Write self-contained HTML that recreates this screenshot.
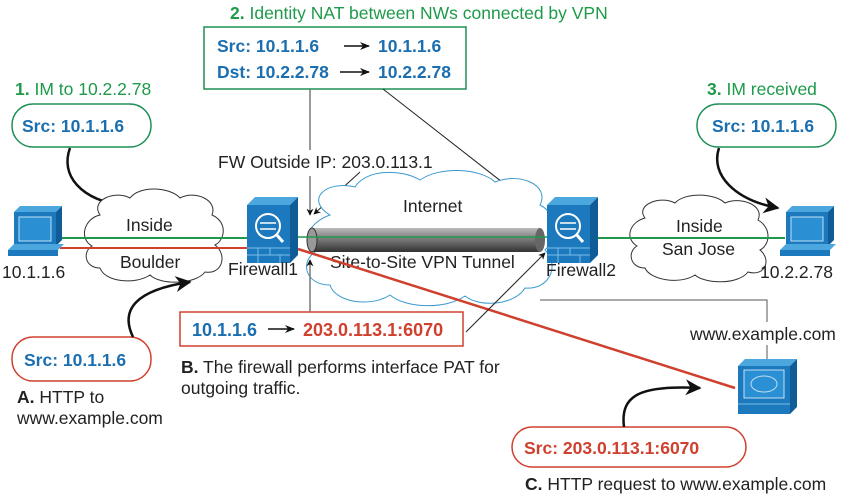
<!DOCTYPE html>
<html><head><meta charset="utf-8"><style>
html,body{margin:0;padding:0;background:#fff;width:849px;height:498px;overflow:hidden}
svg{display:block;font-family:"Liberation Sans",Arial,sans-serif}
.b{font-weight:bold}
</style></head><body>
<svg width="849" height="498" viewBox="0 0 849 498" xmlns="http://www.w3.org/2000/svg">
<defs>
<marker id="ah" viewBox="0 0 10 10" refX="9" refY="5" markerWidth="7" markerHeight="7" orient="auto-start-reverse" markerUnits="userSpaceOnUse"><path d="M0,0 L10,5 L0,10 L3,5z" fill="#111"/></marker>
<marker id="ahs" viewBox="0 0 10 10" refX="9" refY="5" markerWidth="11" markerHeight="10" orient="auto" markerUnits="userSpaceOnUse"><path d="M0,1 L10,5 L0,9 L3,5z" fill="#111"/></marker>
<marker id="big" viewBox="0 0 10 10" refX="9" refY="5" markerWidth="22" markerHeight="16" orient="auto" markerUnits="userSpaceOnUse"><path d="M0,0 L10,5 L0,10 L3,5z" fill="#111"/></marker>
<linearGradient id="tub" x1="0" y1="0" x2="0" y2="1"><stop offset="0" stop-color="#bbb"/><stop offset="0.35" stop-color="#888"/><stop offset="1" stop-color="#333"/></linearGradient>
</defs>

<text x="230" y="19" font-size="17.5" fill="#1e9a4a"><tspan class="b">2.</tspan> Identity NAT between NWs connected by VPN</text>
<rect x="204" y="27" width="262" height="62" fill="#fff" stroke="#1e8f55" stroke-width="1.5"/>
<text x="217" y="52" font-size="17.5" class="b" fill="#1b6fb0">Src: 10.1.1.6</text>
<text x="378" y="52" font-size="17.5" class="b" fill="#1b6fb0">10.1.1.6</text>
<text x="217" y="78" font-size="17.5" class="b" fill="#1b6fb0">Dst: 10.2.2.78</text>
<text x="378" y="78" font-size="17.5" class="b" fill="#1b6fb0">10.2.2.78</text>
<line x1="344" y1="46" x2="369" y2="46" stroke="#111" stroke-width="1.5" marker-end="url(#ahs)"/>
<line x1="340" y1="72" x2="369" y2="72" stroke="#111" stroke-width="1.5" marker-end="url(#ahs)"/>

<line x1="310" y1="89" x2="310" y2="150" stroke="#777" stroke-width="1.5"/>
<line x1="310" y1="176" x2="310" y2="215" stroke="#777" stroke-width="1.5" marker-end="url(#ah)"/>
<line x1="383" y1="89" x2="543" y2="214" stroke="#222" stroke-width="1" marker-end="url(#ah)"/>
<line x1="360" y1="172" x2="314" y2="214" stroke="#222" stroke-width="1" marker-end="url(#ah)"/>

<text x="15" y="95" font-size="17.5" fill="#1e9a4a"><tspan class="b">1.</tspan> IM to 10.2.2.78</text>
<rect x="12" y="104" width="139" height="43" rx="21" fill="#fff" stroke="#1e8f55" stroke-width="1.5"/>
<text x="22" y="132" font-size="17.5" class="b" fill="#1b6fb0">Src: 10.1.1.6</text>
<path d="M70,148 C60,175 80,200 125,206" fill="none" stroke="#111" stroke-width="2.5" marker-end="url(#big)"/>

<text x="707" y="95" font-size="17.5" fill="#1e9a4a"><tspan class="b">3.</tspan> IM received</text>
<rect x="697" y="104" width="139" height="43" rx="21" fill="#fff" stroke="#1e8f55" stroke-width="1.5"/>
<text x="712" y="132" font-size="17.5" class="b" fill="#1b6fb0">Src: 10.1.1.6</text>
<path d="M719,148 C710,175 735,200 778,208" fill="none" stroke="#111" stroke-width="2.5" marker-end="url(#big)"/>

<text x="218" y="168" font-size="17.5" fill="#222">FW Outside IP: 203.0.113.1</text>

<path d="M330,215 C305,200 325,180 355,187 C365,170 400,168 420,180 C440,166 480,168 495,182 C520,172 550,185 540,205 C560,215 555,240 545,250 C560,265 550,290 525,288 C515,305 480,308 465,296 C445,310 405,308 390,295 C370,308 335,302 330,285 C305,285 300,262 315,252 C300,240 310,222 330,215z" fill="#fff" stroke="#3a9ad0" stroke-width="1"/>
<text x="403" y="212" font-size="17.5" fill="#222">Internet</text>
<rect x="312" y="228" width="228" height="24" fill="url(#tub)"/>
<ellipse cx="312" cy="240" rx="5" ry="12" fill="#999" stroke="#333"/>
<ellipse cx="540" cy="240" rx="5" ry="12" fill="#666"/>
<text x="330" y="268" font-size="17.5" fill="#222">Site-to-Site VPN Tunnel</text>

<polyline points="540,300 767,300 767,322" fill="none" stroke="#555" stroke-width="1"/>
<line x1="767" y1="345" x2="767" y2="360" stroke="#555" stroke-width="1"/>

<path d="M100,215 C90,200 115,190 130,198 C140,185 170,187 180,198 C195,190 218,200 212,215 C228,222 225,240 215,245 C228,255 222,275 205,272 C195,285 160,285 150,275 C135,285 105,282 100,268 C85,268 82,252 92,246 C78,238 85,218 100,215z" fill="#fff" stroke="#333" stroke-width="1"/>
<text x="126" y="231" font-size="17.5" fill="#222">Inside</text>
<text x="120" y="268" font-size="17.5" fill="#222">Boulder</text>
<path d="M645,218 C635,205 660,195 675,203 C685,192 715,193 725,203 C740,196 765,205 758,220 C772,228 770,245 760,250 C772,260 765,277 748,272 C738,285 705,284 695,275 C680,285 650,280 645,268 C630,268 627,252 637,246 C624,238 630,222 645,218z" fill="#fff" stroke="#333" stroke-width="1"/>
<text x="676" y="232" font-size="17.5" fill="#222">Inside</text>
<text x="662" y="255" font-size="17.5" fill="#222">San Jose</text>

<line x1="60" y1="238" x2="248" y2="238" stroke="#1e9a4a" stroke-width="2"/>
<line x1="60" y1="248" x2="248" y2="248" stroke="#d0402e" stroke-width="2"/>
<line x1="297" y1="237" x2="548" y2="237" stroke="#1e9a4a" stroke-width="1.5"/>
<line x1="597" y1="238" x2="785" y2="238" stroke="#1e9a4a" stroke-width="2"/>
<line x1="298" y1="249" x2="735" y2="388" stroke="#d0402e" stroke-width="2.5"/>

<polygon points="14,212 56,212 62,206 20,206" fill="#4ca7de"/>
<rect x="14" y="212" width="42" height="34" fill="#1d79bd"/>
<polygon points="56,212 62,206 62,240 56,246" fill="#0f5c96"/>
<rect x="19" y="217" width="32" height="24" fill="#2a8fd3" stroke="#bfe0f5" stroke-width="1"/>
<polygon points="8,250 58,250 64,244 14,244" fill="#4ca7de"/>
<rect x="8" y="250" width="50" height="6" fill="#1d79bd"/>
<text x="2" y="278" font-size="17.5" fill="#222">10.1.1.6</text>

<polygon points="786,212 828,212 834,206 792,206" fill="#4ca7de"/>
<rect x="786" y="212" width="42" height="34" fill="#1d79bd"/>
<polygon points="828,212 834,206 834,240 828,246" fill="#0f5c96"/>
<rect x="791" y="217" width="32" height="24" fill="#2a8fd3" stroke="#bfe0f5" stroke-width="1"/>
<polygon points="780,250 830,250 836,244 786,244" fill="#4ca7de"/>
<rect x="780" y="250" width="50" height="6" fill="#1d79bd"/>
<text x="760" y="278" font-size="17.5" fill="#222">10.2.2.78</text>

<g>
<polygon points="247,205 290,205 298,197 255,197" fill="#4ca7de"/>
<rect x="247" y="205" width="43" height="58" fill="#1d79bd"/>
<polygon points="290,205 298,197 298,255 290,263" fill="#0f5c96"/>
<circle cx="268" cy="226" r="12" fill="#1d79bd" stroke="#fff" stroke-width="2"/>
<line x1="276" y1="234" x2="283" y2="242" stroke="#fff" stroke-width="3"/>
<line x1="260" y1="223" x2="276" y2="223" stroke="#fff" stroke-width="1.5"/>
<line x1="260" y1="229" x2="276" y2="229" stroke="#fff" stroke-width="1.5"/>
<path d="M247,248 H290 M247,255 H290 M258,248 V263 M270,248 V255 M280,255 V263" stroke="#7cc0ea" stroke-width="1" fill="none"/>
<text x="228" y="275" font-size="17.5" fill="#222">Firewall1</text>
</g>
<g>
<polygon points="547,205 590,205 598,197 555,197" fill="#4ca7de"/>
<rect x="547" y="205" width="43" height="58" fill="#1d79bd"/>
<polygon points="590,205 598,197 598,255 590,263" fill="#0f5c96"/>
<circle cx="568" cy="226" r="12" fill="#1d79bd" stroke="#fff" stroke-width="2"/>
<line x1="576" y1="234" x2="583" y2="242" stroke="#fff" stroke-width="3"/>
<line x1="560" y1="223" x2="576" y2="223" stroke="#fff" stroke-width="1.5"/>
<line x1="560" y1="229" x2="576" y2="229" stroke="#fff" stroke-width="1.5"/>
<path d="M547,248 H590 M547,255 H590 M558,248 V263 M570,248 V255 M580,255 V263" stroke="#7cc0ea" stroke-width="1" fill="none"/>
<text x="546" y="276" font-size="17.5" fill="#222">Firewall2</text>
</g>

<text x="690" y="340" font-size="17.5" fill="#222">www.example.com</text>
<polygon points="738,366 790,366 797,359 745,359" fill="#4ca7de"/>
<rect x="738" y="366" width="52" height="48" fill="#1d79bd"/>
<polygon points="790,366 797,359 797,407 790,414" fill="#0f5c96"/>
<rect x="744" y="370" width="40" height="28" fill="#2a8fd3" stroke="#bfe0f5"/>
<ellipse cx="764" cy="384" rx="13" ry="8" fill="none" stroke="#bfe0f5"/>
<line x1="738" y1="404" x2="790" y2="404" stroke="#7cc0ea"/>

<rect x="180" y="312" width="283" height="34" fill="#fff" stroke="#d0402e" stroke-width="1.5"/>
<text x="192" y="336" font-size="18" class="b" fill="#1b6fb0">10.1.1.6</text>
<line x1="268" y1="329" x2="294" y2="329" stroke="#111" stroke-width="1.5" marker-end="url(#ahs)"/>
<text x="303" y="336" font-size="18" class="b" fill="#d0402e">203.0.113.1:6070</text>
<line x1="466" y1="332" x2="545" y2="253" stroke="#222" stroke-width="1" marker-end="url(#ah)"/>
<line x1="310" y1="312" x2="310" y2="260" stroke="#777" stroke-width="1.5" marker-end="url(#ah)"/>
<text x="181" y="373" font-size="17.5" fill="#222"><tspan class="b">B.</tspan> The firewall performs interface PAT for</text>
<text x="181" y="394" font-size="17.5" fill="#222">outgoing traffic.</text>

<rect x="12" y="337" width="139" height="44" rx="21" fill="#fff" stroke="#d0402e" stroke-width="1.5"/>
<text x="24" y="366" font-size="17.5" class="b" fill="#1b6fb0">Src: 10.1.1.6</text>
<path d="M133,337 C120,310 135,290 190,282" fill="none" stroke="#111" stroke-width="2.5" marker-end="url(#big)"/>
<text x="17" y="403" font-size="17.5" fill="#222"><tspan class="b">A.</tspan> HTTP to</text>
<text x="17" y="424" font-size="17.5" fill="#222">www.example.com</text>

<rect x="512" y="427" width="234" height="40" rx="20" fill="#fff" stroke="#d0402e" stroke-width="1.5"/>
<text x="524" y="454" font-size="17.5" class="b" fill="#d0402e">Src: 203.0.113.1:6070</text>
<path d="M624,427 C620,395 640,385 700,388" fill="none" stroke="#111" stroke-width="2.5" marker-end="url(#big)"/>
<text x="525" y="490" font-size="17.5" fill="#222"><tspan class="b">C.</tspan> HTTP request to www.example.com</text>
</svg>
</body></html>
